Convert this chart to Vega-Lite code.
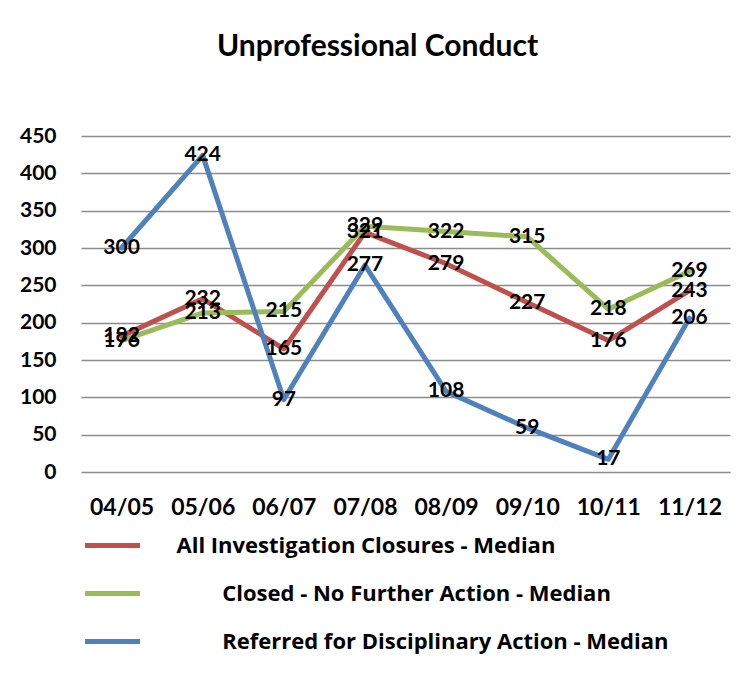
{
  "$schema": "https://vega.github.io/schema/vega-lite/v6.json",
  "autosize": {"type": "none"},
  "width": 649,
  "height": 336,
  "padding": {"left": 81, "top": 136, "right": 18, "bottom": 201},
  "background": "white",
  "config": {
    "view": {"stroke": null},
    "font": "Lato",
    "axis": {"labelFont": "Lato", "labelFontWeight": "bold", "labelColor": "black"}
  },
  "title": {
    "text": "Unprofessional Conduct",
    "font": "Lato",
    "fontSize": 30,
    "fontWeight": "bold",
    "color": "black",
    "anchor": "middle",
    "frame": "group",
    "baseline": "alphabetic",
    "offset": 39,
    "dx": -28
  },
  "data": {
    "values": [
      {"period": "04/05", "series": "All Investigation Closures - Median", "value": 182},
      {"period": "05/06", "series": "All Investigation Closures - Median", "value": 232},
      {"period": "06/07", "series": "All Investigation Closures - Median", "value": 165},
      {"period": "07/08", "series": "All Investigation Closures - Median", "value": 321},
      {"period": "08/09", "series": "All Investigation Closures - Median", "value": 279},
      {"period": "09/10", "series": "All Investigation Closures - Median", "value": 227},
      {"period": "10/11", "series": "All Investigation Closures - Median", "value": 176},
      {"period": "11/12", "series": "All Investigation Closures - Median", "value": 243},
      {"period": "04/05", "series": "Closed - No Further Action - Median", "value": 176},
      {"period": "05/06", "series": "Closed - No Further Action - Median", "value": 213},
      {"period": "06/07", "series": "Closed - No Further Action - Median", "value": 215},
      {"period": "07/08", "series": "Closed - No Further Action - Median", "value": 329},
      {"period": "08/09", "series": "Closed - No Further Action - Median", "value": 322},
      {"period": "09/10", "series": "Closed - No Further Action - Median", "value": 315},
      {"period": "10/11", "series": "Closed - No Further Action - Median", "value": 218},
      {"period": "11/12", "series": "Closed - No Further Action - Median", "value": 269},
      {"period": "04/05", "series": "Referred for Disciplinary Action - Median", "value": 300},
      {"period": "05/06", "series": "Referred for Disciplinary Action - Median", "value": 424},
      {"period": "06/07", "series": "Referred for Disciplinary Action - Median", "value": 97},
      {"period": "07/08", "series": "Referred for Disciplinary Action - Median", "value": 277},
      {"period": "08/09", "series": "Referred for Disciplinary Action - Median", "value": 108},
      {"period": "09/10", "series": "Referred for Disciplinary Action - Median", "value": 59},
      {"period": "10/11", "series": "Referred for Disciplinary Action - Median", "value": 17},
      {"period": "11/12", "series": "Referred for Disciplinary Action - Median", "value": 206}
    ]
  },
  "encoding": {
    "x": {
      "field": "period",
      "type": "ordinal",
      "scale": {"type": "point", "padding": 0.5},
      "axis": {
        "title": null,
        "labelAngle": 0,
        "labelFontSize": 23,
        "labelPadding": 24,
        "ticks": false,
        "domain": false,
        "grid": false
      }
    },
    "y": {
      "field": "value",
      "type": "quantitative",
      "scale": {"domain": [0, 450], "nice": false},
      "axis": {
        "title": null,
        "values": [0, 50, 100, 150, 200, 250, 300, 350, 400, 450],
        "labelFontSize": 21,
        "labelPadding": 25,
        "ticks": false,
        "domain": false,
        "grid": true,
        "gridColor": "#8c8c8c",
        "gridWidth": 1.5
      }
    }
  },
  "layer": [
    {
      "mark": {"type": "line", "strokeWidth": 5, "strokeCap": "round", "strokeJoin": "round"},
      "encoding": {
        "color": {
          "field": "series",
          "type": "nominal",
          "scale": {
            "domain": ["All Investigation Closures - Median", "Closed - No Further Action - Median", "Referred for Disciplinary Action - Median"],
            "range": ["#C0504D", "#9BBB59", "#4F81BD"]
          },
          "legend": {
            "title": null,
            "orient": "none",
            "legendX": 20.5,
            "legendY": 398.5,
            "direction": "vertical",
            "padding": 0,
            "symbolType": "M-5.5,0H5.5",
            "symbolSize": 100,
            "symbolStrokeWidth": 5,
            "symbolFillColor": null,
            "labelFont": "Open Sans",
            "labelFontSize": 22,
            "labelFontWeight": "bold",
            "labelColor": "black",
            "labelOffset": 53,
            "labelLimit": 600,
            "rowPadding": 26,
            "labelExpr": "datum.label == 'All Investigation Closures - Median' ? datum.label : '\u200b\u00a0\u00a0\u00a0\u00a0\u00a0\u00a0\u00a0\u00a0' + datum.label"
          }
        }
      }
    },
    {
      "mark": {"type": "text", "fontSize": 21, "fontWeight": "bold", "font": "Lato", "color": "black", "baseline": "middle", "align": "center"},
      "encoding": {
        "text": {"field": "value", "type": "quantitative"}
      }
    }
  ]
}
